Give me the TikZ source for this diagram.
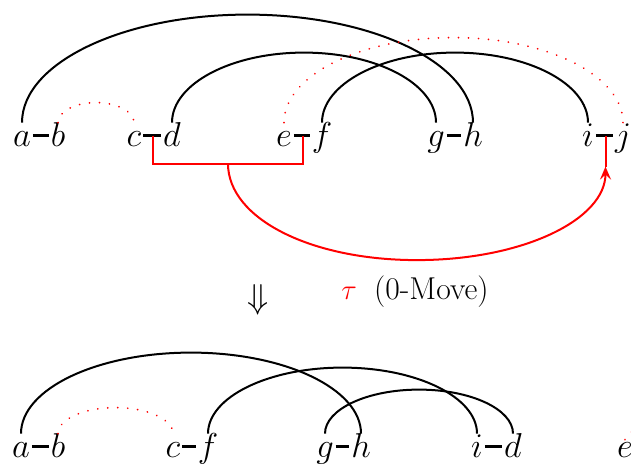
\documentclass[tikz,border=0pt]{standalone}
\usetikzlibrary{calc,arrows.meta}
\newcommand\hump[4]{\draw[#1] let \p1=(#2.north), \p2=(#3.north) in (\p1) arc[start angle=180,end angle=0,x radius={(\x2-\x1)/2},y radius=#4];}
\begin{document}
\begin{tikzpicture}[x=0.5pt,y=-0.5pt,
  lt/.style={inner sep=0pt, anchor=base, font=\LARGE, text height=12pt, text depth=0pt},
  tie/.style={line width=1.1pt, shorten <=0.8pt, shorten >=0.8pt},
  chord/.style={line width=1pt},
  dots/.style={red, line width=0.95pt, dash pattern=on 0.01pt off 5pt, line cap=round},
  redl/.style={red, line width=1pt},
]
\useasboundingbox (0,0) rectangle (631,469);
\clip (0,0) rectangle (631,469);

% top row
\node[lt] (a) at (22,147) {$a$};
\node[lt] (b) at (58,147) {$b$};
\node[lt] (c) at (134,147) {$c$};
\node[lt] (d) at (172,147) {$d$};
\node[lt] (e) at (284,147) {$e$};
\node[lt] (f) at (322,147) {$f$};
\node[lt] (g) at (436,147) {$g$};
\node[lt] (h) at (473,147) {$h$};
\node[lt] (i) at (588,147) {$i$};
\node[lt] (j) at (623,147) {$j$};

\foreach \p/\q in {a/b,c/d,e/f,g/h,i/j}
  \draw[tie] ([yshift=5.7pt]\p.base east) -- ([yshift=5.7pt]\q.base west);

\hump{chord}{a}{h}{54pt}
\hump{dots}{b}{c}{10pt}
\hump{chord}{d}{g}{35pt}
\hump{dots}{e}{j}{42.5pt}
\hump{chord}{f}{i}{35pt}

% red move
\coordinate (cd) at ($(c.base)!.5!(d.base)+(0,-11.4)$);
\coordinate (ef) at ($(e.base)!.5!(f.base)+(0,-11.4)$);
\coordinate (ij) at ($(i.base)!.5!(j.base)+(0,-11.4)$);
\draw[redl] (cd) -- ++(0,28) -| coordinate[pos=0.25] (bm) (ef);
\coordinate (tip) at ($(ij)+(0,31)$);
\coordinate (bot) at ($(bm)!.5!(tip)+(0,95)$);
\draw[redl,-{Stealth[length=6.5pt,width=5.5pt,inset=2.5pt]}] (bm) .. controls +(0,55) and +(-106,0) .. (bot) .. controls +(106,0) and +(0,53) .. (tip);
\draw[redl] (tip) -- (ij);

\node[font=\LARGE, inner sep=0pt] (dn) at (258,300) {$\Downarrow$};
\node[anchor=base west, font=\fontsize{15.8}{19}\selectfont, inner sep=0pt] (lbl) at (341,300) {\textcolor{red}{$\tau$}\hspace{0.55em}(0-Move)};

% bottom row
\node[lt] (a2) at (21,458) {$a$};
\node[lt] (b2) at (58,458) {$b$};
\node[lt] (c2) at (173,458) {$c$};
\node[lt] (f2) at (208,458) {$f$};
\node[lt] (g2) at (325,458) {$g$};
\node[lt] (h2) at (361,458) {$h$};
\node[lt] (i2) at (477,458) {$i$};
\node[lt] (d2) at (513,458) {$d$};
\node[lt] (e2) at (625,458) {$e$};

\foreach \p/\q in {a2/b2,c2/f2,g2/h2,i2/d2}
  \draw[tie] ([yshift=5.7pt]\p.base east) -- ([yshift=5.7pt]\q.base west);

\hump{chord}{a2}{h2}{40.5pt}
\hump{dots}{b2}{c2}{13pt}
\hump{chord}{f2}{i2}{33pt}
\hump{chord}{g2}{d2}{22pt}
\coordinate (eoff) at ($(e2.north)+(90,0)$);
\draw[dots] ([yshift=-3pt]e2.north) .. controls +(12,-20) and +(0,-60) .. (eoff);
\end{tikzpicture}
\end{document}
